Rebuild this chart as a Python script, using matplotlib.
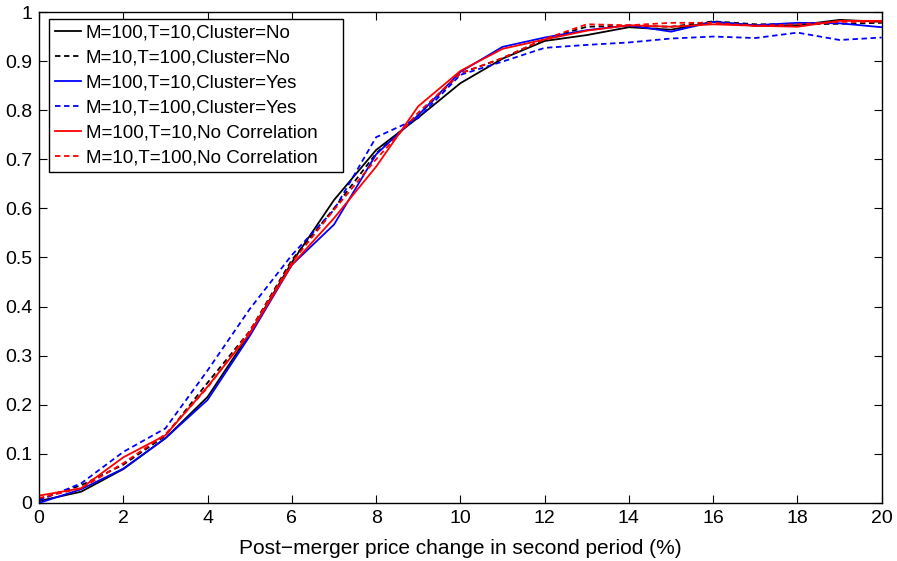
import matplotlib
matplotlib.use("Agg")
import matplotlib.pyplot as plt
import numpy as np

plt.rcParams['font.family'] = ['Liberation Sans', 'DejaVu Sans']

# price change (%) in second period
x = np.arange(0, 21)

m100_t10_no = [0.004, 0.023, 0.069, 0.132, 0.216, 0.345, 0.49, 0.617, 0.719, 0.785, 0.855,
               0.905, 0.941, 0.953, 0.969, 0.964, 0.980, 0.972, 0.973, 0.984, 0.980]
m10_t100_no = [0.008, 0.036, 0.078, 0.137, 0.245, 0.35, 0.495, 0.60, 0.712, 0.79, 0.875,
               0.906, 0.945, 0.970, 0.972, 0.970, 0.981, 0.975, 0.975, 0.976, 0.978]
m100_t10_yes = [0.0, 0.028, 0.070, 0.132, 0.210, 0.340, 0.485, 0.567, 0.71, 0.79, 0.878,
                0.929, 0.948, 0.963, 0.973, 0.960, 0.980, 0.973, 0.978, 0.977, 0.969]
m10_t100_yes = [0.005, 0.04, 0.104, 0.152, 0.27, 0.395, 0.505, 0.597, 0.745, 0.784, 0.872,
                0.899, 0.927, 0.933, 0.938, 0.946, 0.950, 0.947, 0.958, 0.943, 0.948]
m100_t10_nocorr = [0.015, 0.03, 0.093, 0.138, 0.237, 0.345, 0.485, 0.58, 0.685, 0.808, 0.88,
                   0.925, 0.944, 0.962, 0.973, 0.970, 0.975, 0.972, 0.970, 0.982, 0.982]
m10_t100_nocorr = [0.010, 0.03, 0.081, 0.14, 0.235, 0.35, 0.49, 0.597, 0.70, 0.795, 0.875,
                   0.906, 0.945, 0.975, 0.973, 0.978, 0.978, 0.972, 0.975, 0.980, 0.980]

labels = ["M=100,T=10,Cluster=No", "M=10,T=100,Cluster=No",
          "M=100,T=10,Cluster=Yes", "M=10,T=100,Cluster=Yes",
          "M=100,T=10,No Correlation", "M=10,T=100,No Correlation"]
series = [m100_t10_no, m10_t100_no, m100_t10_yes, m10_t100_yes, m100_t10_nocorr, m10_t100_nocorr]
styles = [('k', '-'), ('k', '--'), ('b', '-'), ('b', '--'), ('r', '-'), ('r', '--')]

fig = plt.figure(figsize=(8.97, 5.61), dpi=100)
ax = fig.add_axes([0.0435, 0.1034, 0.9395, 0.8752])

for y, lab, (c, ls) in zip(series, labels, styles):
    ax.plot(x, y, color=c, linestyle=ls, linewidth=1.3, label=lab,
            dashes=(3, 2) if ls == '--' else (None, None))

ax.set_xlim(0, 20)
ax.set_ylim(0, 1)
ax.set_xticks(np.arange(0, 21, 2))
ax.set_yticks(np.arange(0, 1.01, 0.1))
ax.set_yticklabels(["0", "0.1", "0.2", "0.3", "0.4", "0.5", "0.6", "0.7", "0.8", "0.9", "1"])
ax.tick_params(direction='in', top=True, right=True, labelsize=14, length=6, width=0.8, pad=5)
for s in ax.spines.values():
    s.set_linewidth(1.0)

ax.set_xlabel("Post\u2212merger price change in second period (%)", fontsize=15, labelpad=9)

# legend box stretched to the width seen in the reference
leg = ax.legend(loc='upper left', bbox_to_anchor=(0.0119, 0.9857, 0.349, 0.0), mode='expand',
                fontsize=13.5, frameon=True, fancybox=False,
                edgecolor='black', framealpha=1, handlelength=1.4, handletextpad=0.25,
                borderpad=0.3, labelspacing=0.42, borderaxespad=0.0)
leg.get_frame().set_linewidth(1.0)

fig.savefig("out.png", dpi=100)
